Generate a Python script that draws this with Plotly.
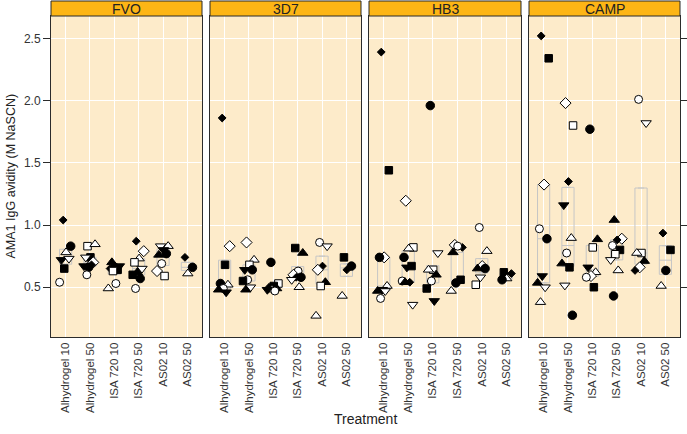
import numpy as np
import plotly.graph_objects as go

TREATMENTS = ["Alhydrogel 10", "Alhydrogel 50", "ISA 720 10", "ISA 720 50", "AS02 10", "AS02 50"]
STRAINS = ["FVO", "3D7", "HB3", "CAMP"]

# animal id: 0 filled circle, 1 open circle, 2 filled square, 3 open square, 4 filled diamond,
# 5 open diamond, 6 filled tri-up, 7 open tri-up, 8 filled tri-down, 9 open tri-down
FVO_treatment = [1]*7 + [2]*9 + [3]*8 + [4]*9 + [5]*8 + [6]*3
FVO_animal = [4, 0, 7, 8, 9, 2, 1,
              3, 7, 2, 9, 5, 0, 8, 4, 1,
              6, 8, 0, 4, 2, 3, 7, 1,
              4, 5, 7, 3, 9, 6, 2, 0, 1,
              9, 7, 8, 6, 0, 1, 5, 3,
              4, 0, 7]
FVO_avidity = [1.04, 0.83, 0.78, 0.72, 0.73, 0.65, 0.54,
               0.83, 0.845, 0.74, 0.74, 0.70, 0.66, 0.67, 0.68, 0.60,
               0.70, 0.67, 0.66, 0.65, 0.64, 0.63, 0.49, 0.53,
               0.87, 0.79, 0.73, 0.70, 0.65, 0.62, 0.60, 0.57, 0.49,
               0.83, 0.83, 0.80, 0.76, 0.77, 0.69, 0.63, 0.59,
               0.74, 0.66, 0.61]

D3D7_treatment = [1]*8 + [2]*9 + [3]*8 + [4]*8 + [5]*7 + [6]*4
D3D7_animal = [4, 5, 2, 0, 7, 1, 6, 8,
               5, 7, 3, 8, 0, 1, 2, 9, 6,
               0, 3, 2, 4, 6, 7, 8, 1,
               2, 6, 1, 5, 0, 4, 9, 7,
               1, 9, 4, 5, 6, 3, 7,
               2, 0, 4, 7]
D3D7_avidity = [1.86, 0.83, 0.68, 0.53, 0.52, 0.49, 0.48, 0.46,
                0.86, 0.72, 0.68, 0.64, 0.64, 0.56, 0.55, 0.50, 0.48,
                0.70, 0.53, 0.51, 0.50, 0.49, 0.48, 0.48, 0.47,
                0.815, 0.775, 0.63, 0.60, 0.58, 0.58, 0.56, 0.50,
                0.86, 0.83, 0.67, 0.64, 0.54, 0.51, 0.27,
                0.74, 0.67, 0.64, 0.43]

HB3_treatment = [1]*9 + [2]*10 + [3]*8 + [4]*7 + [5]*7 + [6]*4
HB3_animal = [4, 2, 5, 0, 7, 8, 6, 9, 1,
              5, 3, 7, 0, 2, 8, 1, 4, 6, 9,
              0, 9, 3, 7, 6, 1, 2, 8,
              5, 4, 1, 6, 2, 0, 7,
              1, 7, 5, 6, 0, 9, 3,
              2, 4, 7, 0]
HB3_avidity = [2.39, 1.44, 0.74, 0.74, 0.51, 0.48, 0.47, 0.47, 0.41,
               1.195, 0.82, 0.81, 0.74, 0.67, 0.66, 0.55, 0.54, 0.54, 0.36,
               1.96, 0.775, 0.64, 0.64, 0.60, 0.55, 0.49, 0.39,
               0.84, 0.82, 0.83, 0.78, 0.56, 0.535, 0.47,
               0.98, 0.79, 0.67, 0.65, 0.65, 0.58, 0.52,
               0.62, 0.61, 0.57, 0.56]

CAMP_treatment = [1]*9 + [2]*10 + [3]*8 + [4]*9 + [5]*7 + [6]*4
CAMP_animal = [4, 2, 5, 1, 0, 8, 6, 9, 7,
               5, 3, 4, 8, 7, 1, 6, 2, 9, 0,
               0, 6, 3, 8, 7, 5, 1, 2,
               6, 5, 4, 1, 2, 3, 9, 7, 0,
               1, 9, 3, 7, 6, 5, 4,
               4, 2, 0, 7]
CAMP_avidity = [2.52, 2.34, 1.325, 0.97, 0.89, 0.59, 0.535, 0.50, 0.38,
                1.98, 1.80, 1.35, 1.16, 0.895, 0.775, 0.69, 0.66, 0.515, 0.275,
                1.77, 0.885, 0.82, 0.66, 0.62, 0.59, 0.58, 0.50,
                1.04, 0.89, 0.88, 0.835, 0.80, 0.765, 0.72, 0.635, 0.43,
                2.01, 1.82, 0.775, 0.775, 0.71, 0.66, 0.635,
                0.935, 0.80, 0.635, 0.51]

PANELS = [
    (FVO_treatment, FVO_animal, FVO_avidity),
    (D3D7_treatment, D3D7_animal, D3D7_avidity),
    (HB3_treatment, HB3_animal, HB3_avidity),
    (CAMP_treatment, CAMP_animal, CAMP_avidity),
]

# ---- styles ----
SYMBOLS = ["circle", "circle", "square", "square", "diamond", "diamond",
           "triangle-up", "triangle-up", "triangle-down", "triangle-down"]
FILLED = [True, False, True, False, True, False, True, False, True, False]
SIZES = [8.5, 8, 7.5, 7.5, 6, 8.5, 9, 9, 9, 9]
BG = "#FDEBCA"
STRIP = "#FDB515"
EDGE = "#2b2b2b"
BOXC = "#c6c6c6"
FONT = "Liberation Sans, Arial, sans-serif"

W, H = 687, 434
ML, MR, MT, MB = 51, 7, 1, 97
PW = W - ML - MR
PH = H - MT - MB
panel_px = [(51, 202), (210, 361), (369, 521), (529, 680)]
STRIP_H = 15
ydom_top = (PH - STRIP_H) / PH

fig = go.Figure()

for p, (treat, animal, avid) in enumerate(PANELS):
    xa = "x" if p == 0 else f"x{p+1}"
    ya = "y" if p == 0 else f"y{p+1}"
    treat = np.array(treat)
    avid = np.array(avid, dtype=float)
    # box summaries computed from the points
    xs, q1s, meds, q3s = [], [], [], []
    for t in range(1, 7):
        v = avid[treat == t]
        xs.append(t)
        q1s.append(float(np.percentile(v, 25)))
        meds.append(float(np.percentile(v, 50)))
        q3s.append(float(np.percentile(v, 75)))
    fig.add_trace(go.Box(x=xs, q1=q1s, median=meds, q3=q3s, lowerfence=q1s, upperfence=q3s,
                         width=0.5, line=dict(color=BOXC, width=1), fillcolor="rgba(0,0,0,0)",
                         boxpoints=False, showlegend=False, xaxis=xa, yaxis=ya, hoverinfo="skip"))
    # jittered points (deterministic low-discrepancy offsets within each group)
    xpos, cnt = [], {}
    for t in treat:
        k = cnt.get(t, 0)
        cnt[t] = k + 1
        xpos.append(t + (((k * 0.618034 + 0.3) % 1.0) - 0.5) * 0.5)
    fig.add_trace(go.Scatter(
        x=xpos, y=avid, mode="markers", showlegend=False, xaxis=xa, yaxis=ya,
        marker=dict(symbol=[SYMBOLS[a] for a in animal],
                    size=[SIZES[a] for a in animal], opacity=1,
                    color=["black" if FILLED[a] else "white" for a in animal],
                    line=dict(color="black", width=1))))

    x0, x1 = panel_px[p]
    dom = [(x0 - ML) / PW, (x1 - ML) / PW]
    xkey = "xaxis" if p == 0 else f"xaxis{p+1}"
    ykey = "yaxis" if p == 0 else f"yaxis{p+1}"
    fig.layout[xkey] = dict(domain=dom, anchor=ya, range=[0.4, 6.6],
                            tickvals=list(range(1, 7)), ticktext=TREATMENTS, tickangle=-90,
                            tickfont=dict(size=11.5, color="#333", family=FONT),
                            showgrid=True, gridcolor="white", gridwidth=1.3,
                            zeroline=False, showline=True, mirror=True, linecolor=EDGE, linewidth=1,
                            ticks="")
    fig.layout[ykey] = dict(domain=[0, ydom_top], anchor=xa, range=[0.1, 2.68],
                            tickvals=[0.5, 1.0, 1.5, 2.0, 2.5],
                            ticktext=["0.5", "1.0", "1.5", "2.0", "2.5"],
                            showticklabels=(p == 0), ticks="outside" if p == 0 else "",
                            ticklen=7, tickcolor=EDGE,
                            tickfont=dict(size=12, color="#333", family=FONT),
                            showgrid=True, gridcolor="white", gridwidth=1.3,
                            zeroline=False, showline=True, mirror=True, linecolor=EDGE, linewidth=1)
    # strip
    fig.add_shape(type="rect", xref=f"{xa} domain", yref="paper", x0=0, x1=1, y0=ydom_top, y1=1,
                  fillcolor=STRIP, line=dict(color=EDGE, width=1))
    fig.add_annotation(text=STRAINS[p], xref=f"{xa} domain", yref="paper",
                       x=0.5, y=(ydom_top + 1) / 2, showarrow=False,
                       font=dict(size=14, color="#222", family=FONT), yanchor="middle")

# right-side ticks on last panel
fig.layout["yaxis5"] = dict(overlaying="y4", anchor="x4", side="right", range=[0.1, 2.68],
                            tickvals=[0.5, 1.0, 1.5, 2.0, 2.5], showticklabels=False,
                            ticks="outside", ticklen=7, tickcolor=EDGE, showgrid=False,
                            zeroline=False, showline=False)
fig.add_trace(go.Scatter(x=[], y=[], xaxis="x4", yaxis="y5", showlegend=False))

fig.add_annotation(text="Treatment", xref="paper", yref="paper", x=0.5, y=-0.245,
                   yanchor="middle", showarrow=False, font=dict(size=14, color="#222", family=FONT))
fig.add_annotation(text="AMA1 IgG avidity (M NaSCN)", xref="paper", yref="paper",
                   x=-41 / PW, y=ydom_top / 2, textangle=-90, xanchor="center", yanchor="middle",
                   showarrow=False, font=dict(size=12.5, color="#222", family=FONT))

fig.update_layout(width=W, height=H, margin=dict(l=ML, r=MR, t=MT, b=MB),
                  plot_bgcolor=BG, paper_bgcolor="white", showlegend=False,
                  font=dict(family=FONT))
fig.write_html("out.html", config={"displayModeBar": False},
               post_script="document.body.style.margin='0px';")
